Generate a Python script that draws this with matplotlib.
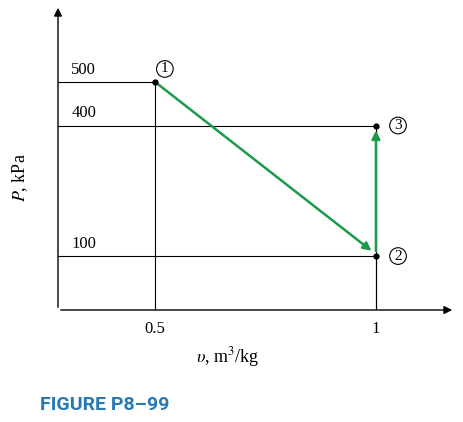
import matplotlib.pyplot as plt

# State data
v = [0.5, 1.0, 1.0]
P = [500, 100, 400]
state_labels = ['1', '2', '3']
tick_x = [0.5, 1.0]
tick_x_labels = ['0.5', '1']

plt.rcParams['font.family'] = ['Liberation Serif', 'DejaVu Serif']
plt.rcParams['mathtext.fontset'] = 'stix'
fig = plt.figure(figsize=(4.63, 4.22), dpi=100)
ax = fig.add_axes([58 / 463, 112 / 422, 397 / 463, 305 / 422])
ax.set_xlim(0.28, 1.179)
ax.set_ylim(-24, 677)
for s in ax.spines.values():
    s.set_visible(False)
ax.set_xticks([])
ax.set_yticks([])

x0, y0 = 0.28, -24
# axes with arrows
ax.annotate('', xy=(1.179, y0), xytext=(x0, y0),
            arrowprops=dict(arrowstyle='-|>', color='black', lw=1, mutation_scale=12), annotation_clip=False)
ax.annotate('', xy=(x0, 677), xytext=(x0, y0),
            arrowprops=dict(arrowstyle='-|>', color='black', lw=1, mutation_scale=12), annotation_clip=False)

# guide lines and value labels
for xi, yi in zip(v, P):
    ax.plot([x0, xi], [yi, yi], color='black', lw=0.8)
    ax.plot([xi, xi], [y0, yi], color='black', lw=0.8)
    ax.text(x0 + 0.03, yi + 10, str(yi), fontsize=12, va='bottom', ha='left')

ax.plot(v, P, 'o', color='black', ms=3.5, zorder=5)
offsets = [(0.022, 30), (0.05, 0), (0.05, 0)]
for xi, yi, lab, (dx, dy) in zip(v, P, state_labels, offsets):
    ax.text(xi + dx, yi + dy, lab, fontsize=11, ha='center', va='center',
            bbox=dict(boxstyle='circle,pad=0.12', fc='white', ec='black', lw=0.8))

green = '#1a9a4a'
ax.annotate('', xy=(v[1] - 0.005, P[1] + 8), xytext=(v[0], P[0]),
            arrowprops=dict(arrowstyle='-|>', color=green, lw=1.8, mutation_scale=12))
ax.annotate('', xy=(v[2], P[2] - 5), xytext=(v[1], P[1] + 5),
            arrowprops=dict(arrowstyle='-|>', color=green, lw=1.8, mutation_scale=12))

for xi, lab in zip(tick_x, tick_x_labels):
    ax.text(xi, y0 - 25, lab, fontsize=12, ha='center', va='top')

ax.text(0.665, y0 - 80, r'$\upsilon$, m$^3$/kg', fontsize=13, ha='center', va='top')
ax.text(0.195, 280, r'$P$, kPa', fontsize=13, rotation=90, ha='center', va='center')

fig.text(40 / 463, 1 - 405 / 422, 'FIGURE P8–99', fontsize=14, fontweight='bold',
         color='#2878b5', family=['Roboto', 'DejaVu Sans'], va='center')

fig.savefig('out.png', dpi=100)
